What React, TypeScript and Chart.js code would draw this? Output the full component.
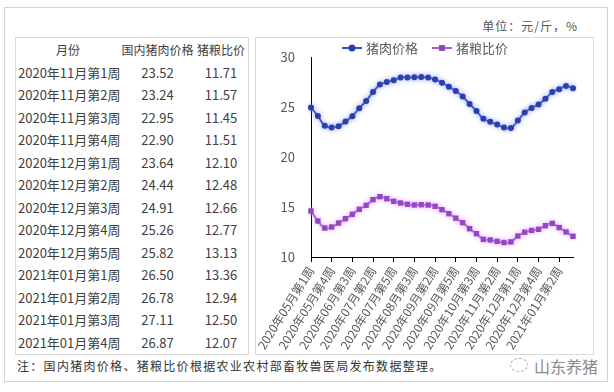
import React, { useEffect, useRef } from "react";
import { Chart, registerables } from "chart.js";

Chart.register(...registerables);

const FONT = '"Noto Sans CJK SC", "Noto Sans", sans-serif';

const weeks = [
  "2020年05月第1周", "2020年05月第2周", "2020年05月第3周", "2020年05月第4周",
  "2020年06月第1周", "2020年06月第2周", "2020年06月第3周", "2020年06月第4周",
  "2020年07月第1周", "2020年07月第2周", "2020年07月第3周", "2020年07月第4周", "2020年07月第5周",
  "2020年08月第1周", "2020年08月第2周", "2020年08月第3周", "2020年08月第4周",
  "2020年09月第1周", "2020年09月第2周", "2020年09月第3周", "2020年09月第4周", "2020年09月第5周",
  "2020年10月第1周", "2020年10月第2周", "2020年10月第3周", "2020年10月第4周",
  "2020年11月第1周", "2020年11月第2周", "2020年11月第3周", "2020年11月第4周",
  "2020年12月第1周", "2020年12月第2周", "2020年12月第3周", "2020年12月第4周", "2020年12月第5周",
  "2021年01月第1周", "2021年01月第2周", "2021年01月第3周", "2021年01月第4周",
];

const porkPrice = [
  24.95, 24.1, 23.12, 22.95, 23.08, 23.55, 24.08, 24.88, 25.6, 26.5,
  27.24, 27.5, 27.68, 27.96, 27.96, 27.97, 28.0, 27.96, 27.76, 27.43,
  27.02, 26.6, 26.05, 25.3, 24.6, 23.82,
  23.52, 23.24, 22.95, 22.90, 23.64, 24.44, 24.91, 25.26, 25.82, 26.50, 26.78, 27.11, 26.87,
];

const pigGrainRatio = [
  14.6, 13.6, 12.9, 13.0, 13.4, 13.83, 14.27, 14.77, 15.17, 15.73,
  16.03, 15.83, 15.57, 15.4, 15.27, 15.2, 15.23, 15.2, 15.07, 14.73,
  14.33, 13.88, 13.43, 12.83, 12.33, 11.76,
  11.71, 11.57, 11.45, 11.51, 12.10, 12.48, 12.66, 12.77, 13.13, 13.36, 12.94, 12.50, 12.07,
];

const seriesNames = ["猪肉价格", "猪粮比价"];
const tableHeaders = ["月份", "国内猪肉价格", "猪粮比价"];
const tableStart = 26;
const yTicks = { min: 10, max: 30, step: 5 };
const labelEvery = 3;

const glowPlugin = {
  id: "glow",
  beforeDatasetDraw(chart: any, args: any) {
    const ds = chart.data.datasets[args.index];
    chart.ctx.save();
    chart.ctx.shadowColor = ds.glowColor;
    chart.ctx.shadowBlur = 5;
  },
  afterDatasetDraw(chart: any) {
    chart.ctx.restore();
  },
};

const legendPlugin = {
  id: "customLegend",
  afterDraw(chart: any) {
    const ctx = chart.ctx;
    ctx.save();
    ctx.font = `13px ${FONT}`;
    ctx.textBaseline = "middle";
    const markerW = 20;
    const gap = 4;
    const itemGap = 14;
    const dss = chart.data.datasets;
    const widths = dss.map((d: any) => markerW + gap + ctx.measureText(d.label).width);
    const total = widths.reduce((a: number, b: number) => a + b, 0) + itemGap * (dss.length - 1);
    const centerX = 169;
    const y = 10;
    let x = centerX - total / 2;
    dss.forEach((d: any, i: number) => {
      ctx.strokeStyle = d.borderColor;
      ctx.lineWidth = 2;
      ctx.beginPath();
      ctx.moveTo(x, y);
      ctx.lineTo(x + markerW, y);
      ctx.stroke();
      ctx.fillStyle = d.pointBackgroundColor;
      if (d.pointStyle === "rect") {
        ctx.fillRect(x + markerW / 2 - 3, y - 3, 6, 6);
      } else {
        ctx.beginPath();
        ctx.arc(x + markerW / 2, y, 3.5, 0, Math.PI * 2);
        ctx.fill();
      }
      ctx.fillStyle = "#595959";
      ctx.fillText(d.label, x + markerW + gap, y);
      x += widths[i] + itemGap;
    });
    ctx.restore();
  },
};

function LineChart() {
  const ref = useRef<HTMLCanvasElement | null>(null);
  useEffect(() => {
    if (!ref.current) return;
    const chart = new Chart(ref.current, {
      type: "line",
      data: {
        labels: weeks,
        datasets: [
          {
            label: seriesNames[0],
            data: porkPrice,
            borderColor: "#3b4fc4",
            borderWidth: 2,
            pointStyle: "circle",
            pointRadius: 3,
            pointBackgroundColor: "#2c3ea8",
            pointBorderColor: "#2c3ea8",
            pointBorderWidth: 0,
            tension: 0.4,
            glowColor: "rgba(130,150,255,0.7)",
          } as any,
          {
            label: seriesNames[1],
            data: pigGrainRatio,
            borderColor: "#a65ad2",
            borderWidth: 2,
            pointStyle: "rect",
            pointRadius: 3.8,
            pointBackgroundColor: "#9446c2",
            pointBorderColor: "#9446c2",
            pointBorderWidth: 0,
            tension: 0.4,
            glowColor: "rgba(220,160,255,0.7)",
          } as any,
        ],
      },
      options: {
        animation: false,
        responsive: false,
        maintainAspectRatio: false,
        layout: { padding: { left: 0, right: 20, top: 19, bottom: 0 } },
        plugins: { legend: { display: false }, tooltip: { enabled: false } },
        scales: {
          x: {
            type: "category",
            offset: false,
            grid: {
              display: true,
              drawOnChartArea: false,
              drawTicks: true,
              tickLength: 5,
              lineWidth: 1,
              color: (c: any) => (c.index % labelEvery === 0 ? "#000" : "rgba(0,0,0,0)"),
            },
            border: { display: true, color: "#000", width: 1 },
            ticks: {
              autoSkip: false,
              minRotation: 58,
              maxRotation: 58,
              padding: 2,
              color: "#595959",
              font: { size: 12, family: FONT },
              callback: (_v: any, i: number) => (i % labelEvery === 0 ? weeks[i] : ""),
            },
            afterFit: (s: any) => {
              s.height = 96;
            },
          },
          y: {
            min: yTicks.min,
            max: yTicks.max,
            ticks: {
              stepSize: yTicks.step,
              color: "#595959",
              font: { size: 13, family: FONT },
              padding: 8,
            },
            grid: { display: false },
            border: { display: true, color: "#000", width: 1 },
            afterFit: (s: any) => {
              s.width = 55;
            },
          },
        },
      } as any,
      plugins: [glowPlugin, legendPlugin],
    });
    return () => chart.destroy();
  }, []);
  return <canvas ref={ref} width={337} height={315} style={{ display: "block" }} />;
}

export default function App() {
  const rowH = 22.5;
  const cols = [
    { left: 18, width: 100 },
    { left: 121, width: 73 },
    { left: 195, width: 52 },
  ];
  const rows = weeks.slice(tableStart).map((w, i) => [
    w,
    porkPrice[tableStart + i].toFixed(2),
    pigGrainRatio[tableStart + i].toFixed(2),
  ]);
  return (
    <div
      style={{
        position: "fixed",
        left: 0,
        top: 0,
        width: 614,
        height: 392,
        background: "#fff",
        fontFamily: FONT,
        overflow: "hidden",
      }}
    >
      <div
        style={{
          position: "absolute",
          left: 4,
          top: 7,
          width: 604,
          height: 375,
          border: "1px solid #d4d4d4",
          boxSizing: "border-box",
        }}
      />
      <div
        style={{
          position: "absolute",
          left: 470,
          top: 17,
          width: 108,
          textAlign: "right",
          fontSize: 12,
          letterSpacing: 1,
          color: "#555",
          lineHeight: "18px",
        }}
      >
        单位：元/斤，%
      </div>
      <div
        style={{
          position: "absolute",
          left: 15,
          top: 37,
          width: 234,
          height: 318,
          border: "1px solid #d9d9d9",
          boxSizing: "border-box",
        }}
      />
      {[tableHeaders, ...rows].map((r, ri) => (
        <React.Fragment key={ri}>
          {r.map((cell, ci) => (
            <div
              key={ci}
              style={{
                position: "absolute",
                left: cols[ci].left,
                top: 39 + ri * rowH,
                width: cols[ci].width,
                height: rowH,
                lineHeight: `${rowH}px`,
                textAlign: "center",
                fontSize: ri === 0 ? 12 : 13,
                color: "#404040",
                whiteSpace: "nowrap",
              }}
            >
              {cell}
            </div>
          ))}
        </React.Fragment>
      ))}
      <div
        style={{
          position: "absolute",
          left: 255,
          top: 37,
          width: 339,
          height: 318,
          border: "1px solid #d9d9d9",
          boxSizing: "border-box",
        }}
      />
      <div style={{ position: "absolute", left: 256, top: 38 }}>
        <LineChart />
      </div>
      <div
        style={{
          position: "absolute",
          left: 17,
          top: 357,
          fontSize: 12,
          letterSpacing: 1.3,
          color: "#333",
          lineHeight: "18px",
          whiteSpace: "nowrap",
        }}
      >
        注：国内猪肉价格、猪粮比价根据农业农村部畜牧兽医局发布数据整理。
      </div>
      <div
        style={{
          position: "absolute",
          left: 510,
          top: 358,
          width: 18,
          height: 14,
          borderRadius: "50%",
          border: "1px dashed #aaa",
          boxSizing: "border-box",
        }}
      />
      <div
        style={{
          position: "absolute",
          left: 534,
          top: 354,
          fontSize: 16,
          color: "#8a8a8a",
          lineHeight: "24px",
          whiteSpace: "nowrap",
        }}
      >
        山东养猪
      </div>
    </div>
  );
}
